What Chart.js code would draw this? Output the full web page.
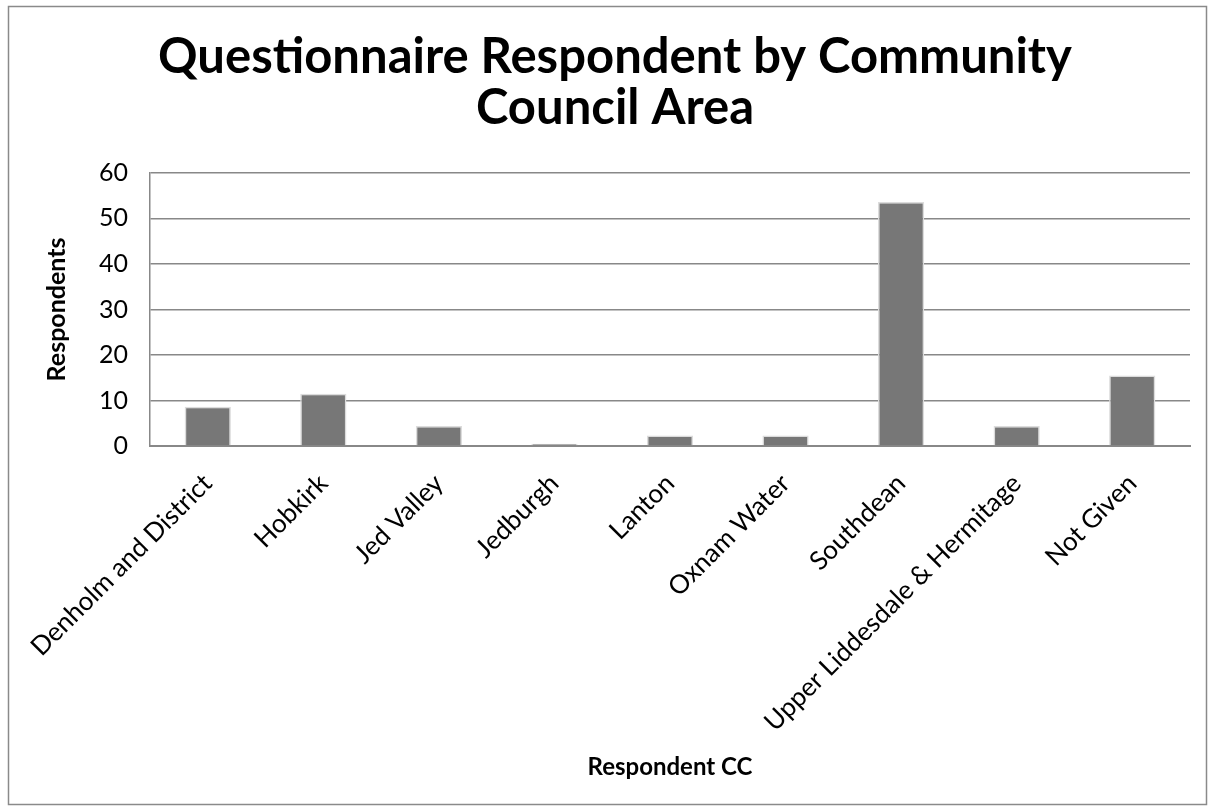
<!DOCTYPE html>
<html>
<head>
<meta charset="utf-8">
<script src="https://cdn.jsdelivr.net/npm/chart.js@4.4.0/dist/chart.umd.min.js"></script>
<style>
  html, body { margin: 0; padding: 0; background: #fff; }
  #wrap { width: 1215px; height: 812px; position: relative; }
</style>
</head>
<body>
<div id="wrap"><canvas id="chart-cc"></canvas></div>
<script>
const areas = ["Denholm and District", "Hobkirk", "Jed Valley", "Jedburgh", "Lanton",
               "Oxnam Water", "Southdean", "Upper Liddesdale & Hermitage", "Not Given"];
const respondents = [8.6, 11.5, 4.4, 0.5, 2.3, 2.3, 53.6, 4.4, 15.5];
const yTicks = [0, 10, 20, 30, 40, 50, 60];

const titleLines = ["Questionnaire Respondent by Community", "Council Area"];

// thin grey frame round the whole chart
const frame = {
    id: 'frame',
    afterDraw(chart) {
        const c = chart.ctx;
        c.save();
        c.strokeStyle = '#8a8a8a';
        c.lineWidth = 1.5;
        c.strokeRect(8.5, 6.5, 1198, 798);
        c.restore();
    }
};

const ctx = document.getElementById('chart-cc').getContext('2d');

new Chart(ctx, {
    type: 'bar',
    data: {
        labels: areas,
        datasets: [{
            label: 'Respondents',
            data: respondents,
            backgroundColor: '#777777',
            borderColor: '#dcdcdc',
            borderWidth: 1.5,
            borderSkipped: 'bottom',
            barPercentage: 0.4,
            categoryPercentage: 1.0
        }]
    },
    options: {
        responsive: true,
        maintainAspectRatio: false,
        animation: false,
        layout: {
            padding: { left: 40, right: 25, top: 6, bottom: 8 }
        },
        plugins: {
            legend: { display: false },
            tooltip: { enabled: false },
            title: {
                display: true,
                text: titleLines,
                color: '#000',
                font: { family: 'Lato', size: 49, weight: 'bold', lineHeight: 1.05 },
                padding: { top: 25, bottom: 39 }
            }
        },
        scales: {
            y: {
                min: 0,
                max: 60,
                afterFit(scale) { scale.width = 110; },
                afterBuildTicks(scale) { scale.ticks = yTicks.map(v => ({ value: v })); },
                border: { display: true, color: '#888888', width: 1.5 },
                grid: { color: '#888888', lineWidth: 1.5, drawTicks: false },
                ticks: {
                    color: '#000',
                    padding: 22,
                    font: { family: 'Lato', size: 25 }
                },
                title: {
                    display: true,
                    text: 'Respondents',
                    color: '#000',
                    font: { family: 'Lato', size: 25, weight: 'bold', lineHeight: 1.2 },
                    padding: { top: 2, bottom: 0 }
                }
            },
            x: {
                afterFit(scale) { scale.height = 358; },
                border: { display: true, color: '#888888', width: 2 },
                grid: { display: false, drawTicks: false },
                ticks: {
                    color: '#000',
                    autoSkip: false,
                    maxRotation: 45,
                    minRotation: 45,
                    padding: 22,
                    font: { family: 'Lato', size: 26 }
                },
                title: {
                    display: true,
                    text: 'Respondent CC',
                    color: '#000',
                    font: { family: 'Lato', size: 24, weight: 'bold', lineHeight: 1.2 },
                    padding: { top: 0, bottom: 22 }
                }
            }
        }
    },
    plugins: [frame]
});
</script>
</body>
</html>
